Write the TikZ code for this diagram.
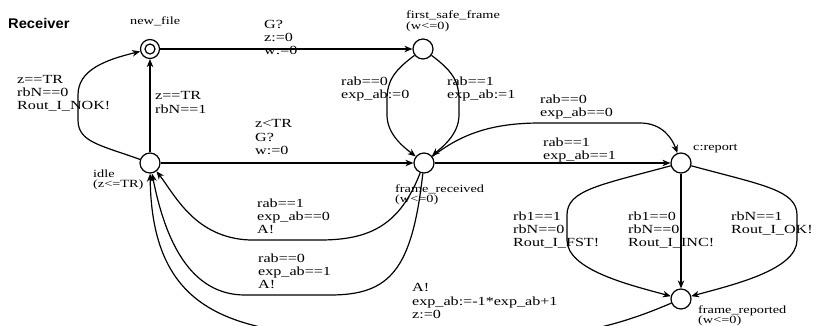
\documentclass[tikz,border=0pt]{standalone}
\usepackage{fontspec}
\usetikzlibrary{arrows.meta}
\newfontfamily\lblfam{Liberation Serif}[FakeStretch=1.3]
\newfontfamily\headfam{Liberation Sans}[FakeStretch=1.05]
\begin{document}
\begin{tikzpicture}[x=1pt,y=-1pt,
  state/.style={circle,draw,line width=1.2pt,minimum size=20pt,inner sep=0pt,fill=white},
  edge/.style={line width=1.2pt,-{Stealth[length=8pt,width=6.5pt,inset=2.5pt]}},
  lbl/.style={font=\lblfam\fontsize{12.4}{13.2}\selectfont,align=left,anchor=north west,inner sep=0pt},
  nm/.style={font=\lblfam\fontsize{11}{10.5}\selectfont,align=left,anchor=north west,inner sep=0pt}]
\useasboundingbox (0,0) rectangle (815,325);
\clip (0,0) rectangle (815,325);
% states
\node[state,minimum size=19pt] (newfile) at (150,49) {};
\draw[line width=1.2pt] (newfile.center) circle (5pt);
\node[state] (fsf) at (423,49) {};
\node[state] (idle) at (150,163) {};
\node[state] (fr) at (424,163) {};
\node[state] (cr) at (681,163) {};
\node[state] (frp) at (681,299) {};
% state names
\node[anchor=base west,inner sep=0pt,font=\headfam\bfseries\fontsize{14}{14}\selectfont] (title) at (8,28) {Receiver};
\node[nm] (n1) at (130,16.5) {new\_file};
\node[nm] (n2) at (406,11) {first\_safe\_frame\\(w<=0)};
\node[nm] (n3) at (93,169.5) {idle\\(z<=TR)};
\node[nm] (n4) at (395,184.5) {frame\_received\\(w<=0)};
\node[anchor=base west,inner sep=0pt,font=\lblfam\fontsize{11}{10.5}\selectfont] (n5) at (693,150) {c:report};
\node[nm] (n6) at (698,305.5) {frame\_reported\\(w<=0)};
% edges
\draw[edge] (newfile) -- (fsf);
\draw[edge] (idle) -- (newfile);
\draw[edge] (idle) .. controls (100,145) and (78,142) .. (78,120) -- (78,95) .. controls (78,70) and (105,60) .. (newfile);
\draw[edge] (idle) -- (fr);
\draw[edge] (fsf) .. controls (395,70) and (387,80) .. (387,100) -- (387,115) .. controls (387,135) and (405,148) .. (fr);
\draw[edge] (fsf) .. controls (451,70) and (459,80) .. (459,100) -- (459,115) .. controls (459,135) and (441,148) .. (fr);
\draw[edge] (fr) .. controls (460,135) and (490,123) .. (540,123) -- (640,123) .. controls (662,123) and (672,138) .. (cr);
\draw[edge] (fr) -- (cr);
\draw[edge] (cr) .. controls (600,185) and (567,190) .. (567,215) -- (567,240) .. controls (567,270) and (630,285) .. (frp);
\draw[edge] (cr) -- (frp);
\draw[edge] (cr) .. controls (762,185) and (797,190) .. (797,215) -- (797,240) .. controls (797,270) and (732,285) .. (frp);
\draw[edge] (fr) .. controls (400,225) and (370,240) .. (320,240) -- (250,240) .. controls (195,238) and (175,195) .. (idle);
\draw[edge] (fr) .. controls (412,270) and (390,295) .. (330,295) -- (245,295) .. controls (190,295) and (165,240) .. (idle);
\draw[edge] (frp) .. controls (620,325) and (560,345) .. (420,340) .. controls (260,335) and (152,335) .. (idle);
% edge labels
\node[lbl] (l1) at (264,19.6) {G?\\z:=0\\w:=0};
\node[lbl] (l2) at (17,75) {z==TR\\rbN==0\\Rout\_I\_NOK!};
\node[lbl] (l3) at (155,91.6) {z==TR\\rbN==1};
\node[lbl] (l4) at (255,119.6) {z<TR\\G?\\w:=0};
\node[lbl] (l5) at (341,76.6) {rab==0\\exp\_ab:=0};
\node[lbl] (l6) at (447,76.6) {rab==1\\exp\_ab:=1};
\node[lbl] (l7) at (540,94.6) {rab==0\\exp\_ab==0};
\node[lbl] (l8) at (543,137.6) {rab==1\\exp\_ab==1};
\node[lbl] (l9) at (257,198.6) {rab==1\\exp\_ab==0\\A!};
\node[lbl] (l10) at (258,253.6) {rab==0\\exp\_ab==1\\A!};
\node[lbl] (l11) at (513,211.6) {rb1==1\\rbN==0\\Rout\_I\_FST!};
\node[lbl] (l12) at (628,211.6) {rb1==0\\rbN==0\\Rout\_I\_INC!};
\node[lbl] (l13) at (731,211.6) {rbN==1\\Rout\_I\_OK!};
\node[lbl] (l14) at (412,283.6) {A!\\exp\_ab:=-1*exp\_ab+1\\z:=0};
\end{tikzpicture}
\end{document}
